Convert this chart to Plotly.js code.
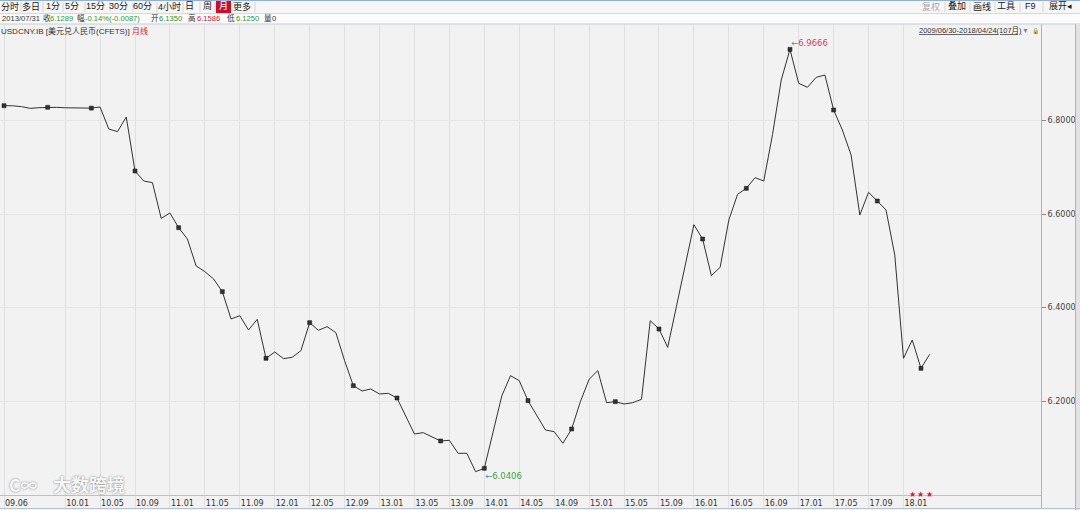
<!DOCTYPE html>
<html>
<head>
<meta charset="utf-8">
<script src="https://cdn.plot.ly/plotly-3.0.1.min.js"></script>
<style>
html,body{margin:0;padding:0;background:#f2f2f2;}
#chart{width:1080px;height:510px;}
</style>
</head>
<body>
<div id="chart"></div>
<script>
// ---- data: monthly close of USD/CNY (CFETS), 2009-06 .. 2018-04 ----
const startYear = 2009, startMonth = 6;
const closes = [
  6.8317, 6.8315, 6.8296, 6.8260, 6.8274, 6.8282, 6.8282, 6.8272, 6.8267, 6.8267,
  6.8265, 6.8289, 6.7818, 6.7761, 6.8075, 6.6920, 6.6706, 6.6670, 6.5907, 6.6021,
  6.5708, 6.5465, 6.4888, 6.4767, 6.4610, 6.4339, 6.3754, 6.3825, 6.3519, 6.3747,
  6.2913, 6.3048, 6.2906, 6.2934, 6.3077, 6.3676, 6.3512, 6.3590, 6.3462, 6.2863,
  6.2328, 6.2214, 6.2257, 6.2150, 6.2164, 6.2064, 6.1665, 6.1294, 6.1323, 6.1237,
  6.1145, 6.1159, 6.0881, 6.0881, 6.0489, 6.0560, 6.1344, 6.2107, 6.2542, 6.2435,
  6.2007, 6.1701, 6.1380, 6.1344, 6.1095, 6.1401, 6.1986, 6.2464, 6.2649, 6.1964,
  6.1986, 6.1936, 6.1964, 6.2036, 6.3718, 6.3540, 6.3148, 6.4025, 6.4895, 6.5772,
  6.5465, 6.4681, 6.4859, 6.5872, 6.6421, 6.6549, 6.6777, 6.6706, 6.7697, 6.8866,
  6.9522, 6.8795, 6.8710, 6.8923, 6.8973, 6.8225, 6.7797, 6.7262, 6.5979, 6.6464,
  6.6278, 6.6086, 6.5123, 6.2913, 6.3305, 6.2699, 6.2998
];
const tickMonths = ['2009-06','2010-01','2010-05','2010-09','2011-01','2011-05','2011-09','2012-01','2012-05','2012-09',
  '2013-01','2013-05','2013-09','2014-01','2014-05','2014-09','2015-01','2015-05','2015-09','2016-01',
  '2016-05','2016-09','2017-01','2017-05','2017-09','2018-01'];
const tickLabels = ['09.06','10.01','10.05','10.09','11.01','11.05','11.09','12.01','12.05','12.09',
  '13.01','13.05','13.09','14.01','14.05','14.09','15.01','15.05','15.09','16.01',
  '16.05','16.09','17.01','17.05','17.09','18.01'];
const yTicks = [6.2, 6.4, 6.6, 6.8];
const extremeMonths = ['2016-12', '2014-01'];
const extremeValues = [6.9666, 6.0406];
const starMonths = ['2018-02', '2018-03', '2018-04'];

// month categories
const months = closes.map((_, i) => {
  const m = startMonth - 1 + i;
  const y = startYear + Math.floor(m / 12);
  const mm = (m % 12) + 1;
  return y + '-' + (mm < 10 ? '0' + mm : mm);
});
const markEvery = 5;
const markX = months.filter((_, i) => i % markEvery === 0);
const markY = closes.filter((_, i) => i % markEvery === 0);

// ---- layout helpers (pixel -> paper) ----
const W = 1080, H = 510;
const px = x => x / W;
const py = y => (H - y) / H;
const CJK = '"Noto Sans CJK SC", "DejaVu Sans", sans-serif';
const LAT = '"Liberation Sans", "Noto Sans CJK SC", sans-serif';

const traces = [
  {x: months, y: closes, type: 'scatter', mode: 'lines',
   line: {color: '#333333', width: 1}, hoverinfo: 'skip'},
  {x: markX, y: markY, type: 'scatter', mode: 'markers',
   marker: {symbol: 'square', size: 4, color: '#333', line: {color: '#111', width: 0.5}}, hoverinfo: 'skip'}
];

const annotations = [];
function txt(x, y, text, color, size, anchor, family, extra) {
  annotations.push(Object.assign({
    xref: 'paper', yref: 'paper', x: px(x), y: py(y), text: text, showarrow: false,
    xanchor: anchor || 'left', yanchor: 'middle', borderpad: 0,
    font: {family: family || CJK, size: size || 9, color: color || '#222'}
  }, extra || {}));
}
// toolbar row
const btns = [['分时',10],['多日',31],['1分',53],['5分',72],['15分',95],['30分',118],['60分',142],['4小时',169],['日',189],['周',207],['月',223],['更多',242]];
btns.forEach(b => txt(b[1], 6.5, b[0], b[0] === '月' ? '#ffffff' : '#222', 9, 'center', LAT));
const rBtns = [['复权',931,'#aaa'],['叠加',957,'#222'],['画线',982,'#222'],['工具',1006,'#222'],['F9',1030,'#222'],['展开◂',1060,'#222']];
rBtns.forEach(b => txt(b[1], 6.5, b[0], b[2], 9, 'center', LAT));
// info row
const info = [['2013/07/31',1,'#333'],['收',42,'#333'],['6.1289',49,'#2e9a2e'],['幅',76,'#333'],['-0.14%(-0.0087)',84,'#2e9a2e'],
  ['开',150,'#333'],['6.1350',158,'#2e9a2e'],['高',187,'#333'],['6.1586',196,'#d02030'],['低',226,'#333'],['6.1250',235,'#2e9a2e'],['量',263,'#333'],['0',271,'#333']];
info.forEach(t => txt(t[1], 18.5, t[0], t[2], 7.6, 'left', LAT));
// title row
txt(0, 30.5, 'USDCNY.IB [美元兑人民币(CFETS)] <span style="color:#e02020">月线</span>', '#333', 8, 'left', LAT);
txt(918, 30.5, '<span style="text-decoration:underline">2009/06/30-2018/04/24(107月)</span>', '#333', 7.5, 'left', LAT);
txt(1025, 30.5, '▼', '#888', 7, 'center', LAT);
txt(1035, 30.5, '🔒', '#e8b020', 6, 'center');
// extremes
annotations.push({xref: 'x', yref: 'y', x: extremeMonths[0], y: extremeValues[0], showarrow: false,
  xanchor: 'left', yanchor: 'middle', xshift: -1,
  text: '<span style="color:#3a9ab8">←</span>' + extremeValues[0].toFixed(4),
  font: {family: '"DejaVu Sans", sans-serif', size: 8.5, color: '#e0405a'}});
annotations.push({xref: 'x', yref: 'y', x: extremeMonths[1], y: extremeValues[1], showarrow: false,
  xanchor: 'left', yanchor: 'middle', xshift: -1,
  text: '<span style="color:#3a9ab8">←</span>' + extremeValues[1].toFixed(4),
  font: {family: '"DejaVu Sans", sans-serif', size: 8.5, color: '#44a044'}});
// stars
starMonths.forEach(m => annotations.push({xref: 'x', yref: 'paper', x: m, y: py(493), text: '★', showarrow: false,
  xanchor: 'center', yanchor: 'middle', font: {size: 8, color: '#cc2233'}}));
// watermark
const wmFont = s => ({family: CJK, size: s, weight: 700, color: 'rgba(255,255,255,0.95)', shadow: '0px 0px 2px rgba(0,0,0,0.55)'});
txt(8, 484, 'C∞', '#fff', 17, 'left', CJK, {font: wmFont(17)});
txt(52, 484, '大数跨境', '#fff', 18, 'left', CJK, {font: wmFont(18)});

const shapes = [
  // toolbar background
  {type: 'rect', xref: 'paper', yref: 'paper', x0: 0, x1: 1, y0: py(13), y1: py(0), fillcolor: '#f6f6f6', line: {width: 0}, layer: 'below'},
  {type: 'rect', xref: 'paper', yref: 'paper', x0: 0, x1: 1, y0: py(24), y1: py(13), fillcolor: '#fbfbfb', line: {width: 0}, layer: 'below'},
  {type: 'line', xref: 'paper', yref: 'paper', x0: 0, x1: 1, y0: py(0.5), y1: py(0.5), line: {color: '#8fb0da', width: 1}},
  {type: 'line', xref: 'paper', yref: 'paper', x0: 0, x1: 1, y0: py(13.5), y1: py(13.5), line: {color: '#d8d8d8', width: 1}},
  {type: 'line', xref: 'paper', yref: 'paper', x0: 0, x1: 1, y0: py(24), y1: py(24), line: {color: '#c5ccd6', width: 1}},
  // selected button
  {type: 'rect', xref: 'paper', yref: 'paper', x0: px(216), x1: px(231), y0: py(13), y1: py(1), fillcolor: '#c8102e', line: {width: 0}},
  // label band top line
  {type: 'line', xref: 'paper', yref: 'paper', x0: 0, x1: px(1041), y0: py(495.5), y1: py(495.5), line: {color: '#b8c2ce', width: 1}},
  // right panel lines
  {type: 'line', xref: 'paper', yref: 'paper', x0: px(1075.5), x1: px(1075.5), y0: 0, y1: py(24), line: {color: '#aab6c6', width: 1}},
  {type: 'rect', xref: 'paper', yref: 'paper', x0: px(1076), x1: 1, y0: 0, y1: py(24), fillcolor: '#e2e2e2', line: {width: 0}},
  {type: 'line', xref: 'paper', yref: 'paper', x0: 0, x1: 1, y0: py(508.5), y1: py(508.5), line: {color: '#b8c2ce', width: 1}}
];
// toolbar separators
[21, 43, 63, 85, 110, 133, 157, 183, 200, 215, 232, 255, 945, 970, 995, 1020, 1043].forEach(x =>
  shapes.push({type: 'line', xref: 'paper', yref: 'paper', x0: px(x), x1: px(x), y0: py(12), y1: py(2), line: {color: '#d4d4d4', width: 1}}));

// axis geometry: 6.8 at y=120.5 px, 6.2 at y=401 px
const pxPerUnit = (401 - 120.5) / 0.6;
const yTop = 24, yBot = 508;
const yMax = 6.8 + (120.5 - yTop) / pxPerUnit;
const yMin = 6.2 - (yBot - 401) / pxPerUnit;
const xStep = 8.733, x0px = 4;
const xMin = -x0px / xStep, xMax = (1041 - x0px) / xStep;

const layout = {
  width: W, height: H,
  margin: {l: 0, r: 0, t: 0, b: 0, pad: 0},
  paper_bgcolor: '#f2f2f2', plot_bgcolor: '#f2f2f2',
  showlegend: false,
  xaxis: {
    type: 'category', domain: [0, px(1041)], range: [xMin, xMax],
    tickvals: tickMonths, ticktext: tickLabels, ticklabelposition: 'inside right',
    ticklabelstandoff: -6, ticklabelshift: 1,
    ticks: '', showgrid: true, gridcolor: '#e0e0e0', gridwidth: 1,
    showline: false, zeroline: false, fixedrange: true,
    tickfont: {family: '"DejaVu Sans", sans-serif', size: 8, color: '#333'}
  },
  yaxis: {
    domain: [py(yBot), py(yTop)], range: [yMin, yMax], side: 'right',
    tickvals: yTicks, tickformat: '.4f', ticks: 'outside', ticklen: 4, tickcolor: '#888',
    showline: true, linecolor: '#a8b4c4', linewidth: 1, mirror: false,
    showgrid: true, gridcolor: '#e6e6e6', zeroline: false, fixedrange: true,
    tickfont: {family: '"DejaVu Sans", sans-serif', size: 8, color: '#444'}
  },
  annotations: annotations,
  shapes: shapes
};

Plotly.newPlot('chart', traces, layout, {staticPlot: true, displayModeBar: false});
</script>
</body>
</html>
